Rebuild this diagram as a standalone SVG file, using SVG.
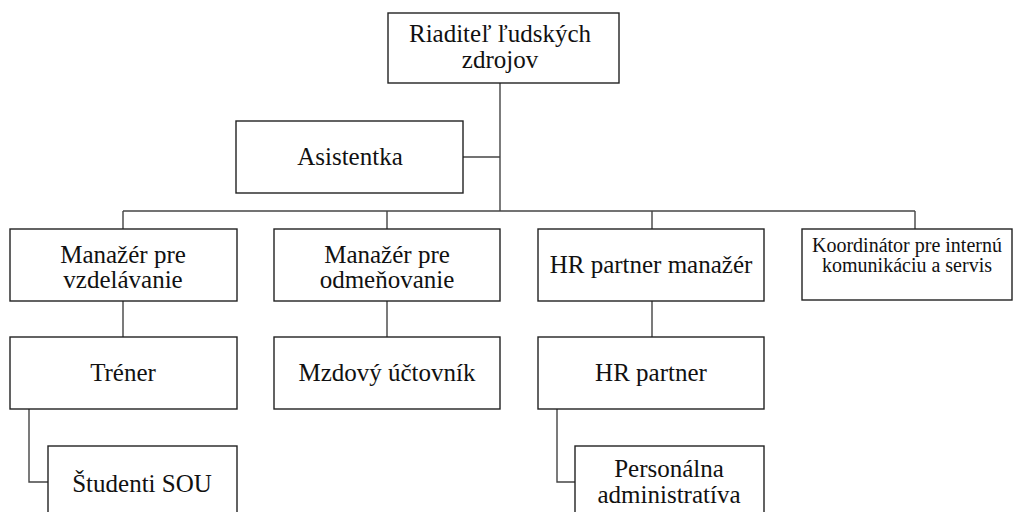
<svg xmlns="http://www.w3.org/2000/svg" width="1019" height="512" viewBox="0 0 1019 512">
<style>
.box{fill:#fff;stroke:#222;stroke-width:1.4}
.t{font-family:'Liberation Serif','Tinos','Times New Roman',Times,'DejaVu Serif',serif;font-size:25px;fill:#111;text-anchor:middle}
.s{font-size:20px}
.c{fill:none;stroke:#444;stroke-width:1.4}
</style>
<rect width="1019" height="512" fill="#fff"/>
<g id="connectors">
<path class="c" d="M500,83 V211"/>
<path class="c" d="M463,157 H500"/>
<path class="c" d="M123,211 H915"/>
<path class="c" d="M123,211 V229 M387,211 V229 M652,211 V229 M915,211 V229"/>
<path class="c" d="M123,301 V337 M387,301 V337 M652,301 V337"/>
<path class="c" d="M29,409 V482 H48"/>
<path class="c" d="M557,409 V482 H575"/>
</g>
<g id="n-riaditel"><rect class="box" x="388" y="13" width="231" height="70"/><text class="t" x="500" y="42">Riaditeľ ľudských</text><text class="t" x="500" y="68">zdrojov</text></g>
<g id="n-asistentka"><rect class="box" x="236" y="121" width="227" height="72"/><text class="t" x="350" y="165">Asistentka</text></g>
<g id="n-vzdelavanie"><rect class="box" x="10" y="229" width="227" height="72"/><text class="t" x="123" y="263">Manažér pre</text><text class="t" x="123" y="288">vzdelávanie</text></g>
<g id="n-odmenovanie"><rect class="box" x="274" y="229" width="226" height="72"/><text class="t" x="387" y="263">Manažér pre</text><text class="t" x="387" y="288">odmeňovanie</text></g>
<g id="n-hrpm"><rect class="box" x="538" y="229" width="226" height="72"/><text class="t" x="651" y="273">HR partner manažér</text></g>
<g id="n-koordinator"><rect class="box" x="802" y="229" width="210" height="71"/><text class="t s" x="907" y="252">Koordinátor pre internú</text><text class="t s" x="907" y="272">komunikáciu a servis</text></g>
<g id="n-trener"><rect class="box" x="10" y="337" width="227" height="72"/><text class="t" x="123" y="381">Tréner</text></g>
<g id="n-mzdovy"><rect class="box" x="274" y="337" width="226" height="72"/><text class="t" x="387" y="381">Mzdový účtovník</text></g>
<g id="n-hrp"><rect class="box" x="538" y="337" width="226" height="72"/><text class="t" x="651" y="381">HR partner</text></g>
<g id="n-studenti"><rect class="box" x="48" y="446" width="189" height="80"/><text class="t" x="142" y="492">Študenti SOU</text></g>
<g id="n-personalna"><rect class="box" x="575" y="446" width="189" height="80"/><text class="t" x="669" y="477">Personálna</text><text class="t" x="669" y="503">administratíva</text></g>
</svg>
